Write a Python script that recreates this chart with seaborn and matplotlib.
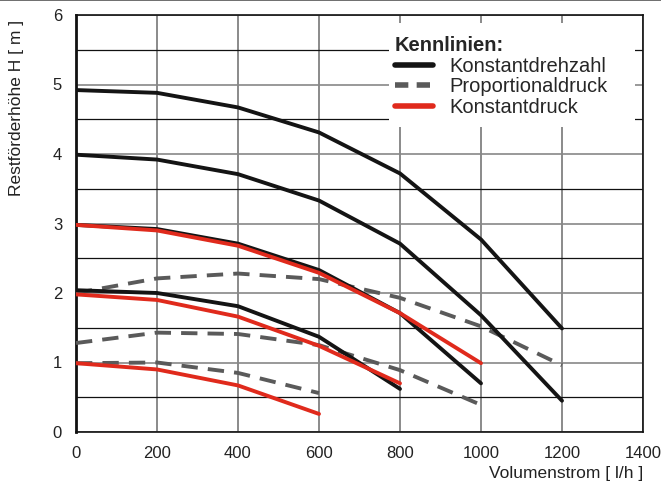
import matplotlib
matplotlib.use("Agg")
import matplotlib.pyplot as plt
import seaborn as sns
from matplotlib.lines import Line2D
from matplotlib.patches import Rectangle

sns.set_theme(style="white")
plt.rcParams['font.family'] = ['Liberation Sans', 'DejaVu Sans']

# Konstantdrehzahl (black)
k_x = [[0, 200, 400, 600, 800, 1000, 1200],
       [0, 200, 400, 600, 800, 1000, 1200],
       [0, 200, 400, 600, 800, 1000],
       [0, 200, 400, 600, 800]]
k_y = [[4.92, 4.88, 4.67, 4.31, 3.72, 2.77, 1.49],
       [3.99, 3.92, 3.71, 3.33, 2.71, 1.68, 0.45],
       [2.98, 2.92, 2.71, 2.33, 1.71, 0.70],
       [2.04, 2.00, 1.81, 1.37, 0.62]]
# Proportionaldruck (dashed grey)
p_x = [[0, 200, 400, 600, 800, 1000, 1200],
       [0, 200, 400, 600, 800, 1000],
       [0, 200, 400, 600]]
p_y = [[2.00, 2.21, 2.28, 2.20, 1.93, 1.52, 0.96],
       [1.28, 1.43, 1.41, 1.25, 0.89, 0.39],
       [0.99, 1.00, 0.85, 0.56]]
# Konstantdruck (red)
r_x = [[0, 200, 400, 600, 800, 1000],
       [0, 200, 400, 600, 800],
       [0, 200, 400, 600]]
r_y = [[2.98, 2.90, 2.68, 2.29, 1.71, 0.99],
       [1.98, 1.90, 1.66, 1.24, 0.70],
       [0.99, 0.90, 0.67, 0.26]]

x_ticks = [0, 200, 400, 600, 800, 1000, 1200, 1400]
y_ticks = [0, 1, 2, 3, 4, 5, 6]
legend_labels = ["Konstantdrehzahl", "Proportionaldruck", "Konstantdruck"]

c_black = "#141414"
c_grey = "#5a5a5a"
c_red = "#e02a1c"

W, H = 661, 492
fig = plt.figure(figsize=(W / 100, H / 100), dpi=100)
ax = fig.add_axes([76 / W, (H - 432) / H, 567 / W, 417 / H])

lw = 2.8
for xs, ys in zip(p_x, p_y):
    sns.lineplot(x=xs, y=ys, ax=ax, color=c_grey, lw=lw,
                 linestyle=(0, (4.2, 2.6)), zorder=3)
for xs, ys in zip(k_x, k_y):
    sns.lineplot(x=xs, y=ys, ax=ax, color=c_black, lw=lw, zorder=4)
for xs, ys in zip(r_x, r_y):
    sns.lineplot(x=xs, y=ys, ax=ax, color=c_red, lw=lw, zorder=5)

ax.set_xlim(0, 1400)
ax.set_ylim(0, 6)
ax.set_xticks(x_ticks)
ax.set_yticks(y_ticks)
ax.set_yticks([0.5, 1.5, 2.5, 3.5, 4.5, 5.5], minor=True)
ax.tick_params(axis='both', which='major', direction='out', length=7, width=1,
               color="#777777", labelsize=12, labelcolor="#222222", pad=3)
ax.tick_params(axis='y', which='minor', direction='out', length=3, width=1, color="#777777")
ax.grid(True, axis='x', which='major', color="#777777", lw=1.2, zorder=1)
ax.grid(True, axis='y', which='major', color="#888888", lw=1.2, zorder=1)
ax.grid(True, axis='y', which='minor', color="#111111", lw=0.9, zorder=1)
ax.set_axisbelow(True)
for s in ["top", "right", "bottom"]:
    ax.spines[s].set_color("#111111")
    ax.spines[s].set_linewidth(1.2)
ax.spines["left"].set_color("#111111")
ax.spines["left"].set_linewidth(2)

ax.set_xlabel("Volumenstrom [ l/h ]", fontsize=12.5, color="#222222", loc="right", labelpad=4)
ax.set_ylabel("Restförderhöhe H [ m ]", fontsize=12.5, color="#222222", loc="top", labelpad=10)
ax.yaxis.set_label_coords((24 - 76) / 567, 1.0 - 5 / 417)

# white legend background box
def px2ax(px, py):
    return (px - 76) / 567, (432 - py) / 417
x0, y1 = px2ax(389, 23)
x1, y0 = px2ax(635, 127)
ax.add_patch(Rectangle((x0, y0), x1 - x0, y1 - y0, transform=ax.transAxes,
                       facecolor="white", edgecolor="none", zorder=2))

handles = [Line2D([0], [0], color=c_black, lw=4),
           Line2D([0], [0], color=c_grey, lw=4, linestyle=(0, (2.4, 1.5))),
           Line2D([0], [0], color=c_red, lw=4)]
lx, ly = px2ax(389, 30)
leg = ax.legend(handles, legend_labels, title="Kennlinien:", loc="upper left",
                bbox_to_anchor=(lx, ly), borderaxespad=0, frameon=False,
                fontsize=14.5, title_fontsize=14.5, handlelength=1.9,
                handletextpad=0.8, labelspacing=0.08, borderpad=0.3,
                alignment="left")
leg.get_title().set_fontweight("bold")
leg.set_zorder(10)

fig.add_artist(Line2D([0, 1], [0.999, 0.999], color="#555555", lw=1.2, transform=fig.transFigure))

fig.savefig("out.png", dpi=100)
